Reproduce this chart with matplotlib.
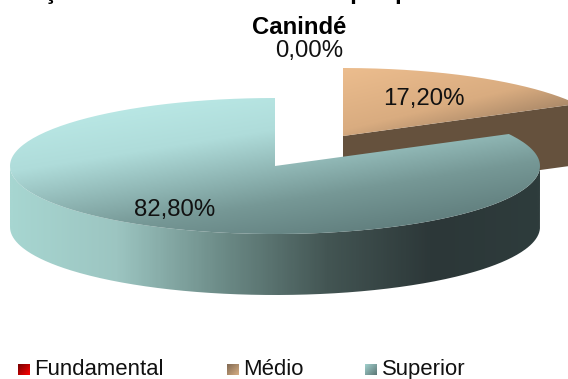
import numpy as np
import matplotlib
matplotlib.use("Agg")
import matplotlib.pyplot as plt
from matplotlib.patches import PathPatch
from matplotlib.path import Path
from matplotlib.colors import LinearSegmentedColormap

plt.rcParams['font.family'] = ['Liberation Sans', 'DejaVu Sans']

categories = ["Fundamental", "Médio", "Superior"]
values = [0.00, 17.20, 82.80]
labels = ["0,00%", "17,20%", "82,80%"]
title_top = "Formação dos docentes em rede por professores do"
title_bottom = "Canindé"

W, H = 568, 379
fig = plt.figure(figsize=(W / 100, H / 100), dpi=100)
ax = fig.add_axes([0, 0, 1, 1])
ax.set_xlim(0, W)
ax.set_ylim(H, 0)
ax.axis("off")

RX, RY, DEPTH = 265, 68, 61
theta_start = 90.0


def wedge(cx, cy, a0, a1, n=200):
    t = np.radians(np.linspace(a0, a1, n))
    x = cx + RX * np.cos(t)
    y = cy - RY * np.sin(t)
    return np.r_[cx, x, cx], np.r_[cy, y, cy]


def gradient_patch(xs, ys, colors, direction, z):
    verts = np.c_[xs, ys]
    patch = PathPatch(Path(verts), fc="none", ec="none", zorder=z)
    ax.add_patch(patch)
    x0, x1, y0, y1 = xs.min(), xs.max(), ys.min(), ys.max()
    gx, gy = np.meshgrid(np.linspace(0, 1, 300), np.linspace(0, 1, 200))
    g = (direction[0] * gx + direction[1] * gy) / (direction[0] + direction[1])
    cmap = LinearSegmentedColormap.from_list("g", colors)
    im = ax.imshow(g, extent=(x0, x1, y1, y0), cmap=cmap, vmin=0, vmax=1,
                   aspect="auto", zorder=z, interpolation="bilinear")
    im.set_clip_path(patch)


def side_band(cx, cy, a0, a1, n=300):
    t = np.radians(np.linspace(a0, a1, n))
    x = cx + RX * np.cos(t)
    y = cy - RY * np.sin(t)
    return np.r_[x, x[::-1], x[0]], np.r_[y, y[::-1] + DEPTH, y[0]]


# slice angles come from the values (clockwise from 12 o'clock)
a_medio_end = theta_start - 360 * values[1] / 100
a_sup_end = a_medio_end + 360 - 360 * values[2] / 100

# Médio: exploded slice
mx, my = 343, 136
ex = mx + RX * np.cos(np.radians(a_medio_end))
ey = my - RY * np.sin(np.radians(a_medio_end))
xs = np.array([mx, ex, ex, mx, mx])
ys = np.array([my, ey, ey + DEPTH, my + DEPTH, my])
ax.fill(xs, ys, color="#65513d", zorder=1, lw=0)
bx, by = wedge(mx, my, a_medio_end, theta_start)
gradient_patch(bx, by, ["#ecbd8e", "#d9ac80", "#7d6651"], (0.75, 0.9), 2)

# Superior: main body
cx, cy = 275, 166
sx, sy = side_band(cx, cy, 180, 360)
gradient_patch(sx, sy, ["#a7d6d1", "#9cc5c1", "#6c8b87", "#435553", "#2c3738", "#2e3c3c"],
               (1, 0), 3)
tx, ty = wedge(cx, cy, a_sup_end, a_medio_end + 360)
gradient_patch(tx, ty, ["#bfeeeb", "#afdcda", "#769896", "#546f6f"], (0.62, 1), 4)

# data labels
fs = 17.3
ax.text(309, 51, labels[0], fontsize=fs, ha="center", va="center", color="#111111", zorder=6)
ax.text(424, 98.5, labels[1], fontsize=fs, ha="center", va="center", color="#111111", zorder=6)
ax.text(175, 210, labels[2], fontsize=fs, ha="center", va="center", color="#111111", zorder=6)

# title, cut off by the top edge of the picture
ax.text(-29, -1, title_top, fontsize=17.2, fontweight="bold", ha="left", va="baseline",
        color="black", zorder=6, clip_on=True)
ax.text(299.5, 28, title_bottom, fontsize=17.2, fontweight="bold", ha="center", va="center",
        color="black", zorder=6)

# legend
leg_x = [18, 227, 365]
leg_cols = [["#6e0000", "#ff0000"], ["#7c6650", "#d8ae84"], ["#a5d5d2", "#5c7675"]]
for x, name, c in zip(leg_x, categories, leg_cols):
    y = 369.5
    sqx = np.array([x, x + 12, x + 12, x, x])
    sqy = np.array([y - 6, y - 6, y + 6, y + 6, y - 6], dtype=float)
    gradient_patch(sqx, sqy, c, (1, 1), 5)
    ax.text(x + 16.5, y, name, fontsize=15.9, ha="left", va="center", color="#111111", zorder=6)

ax.set_xlim(0, W)
ax.set_ylim(H, 0)
fig.savefig("out.png", dpi=100)
